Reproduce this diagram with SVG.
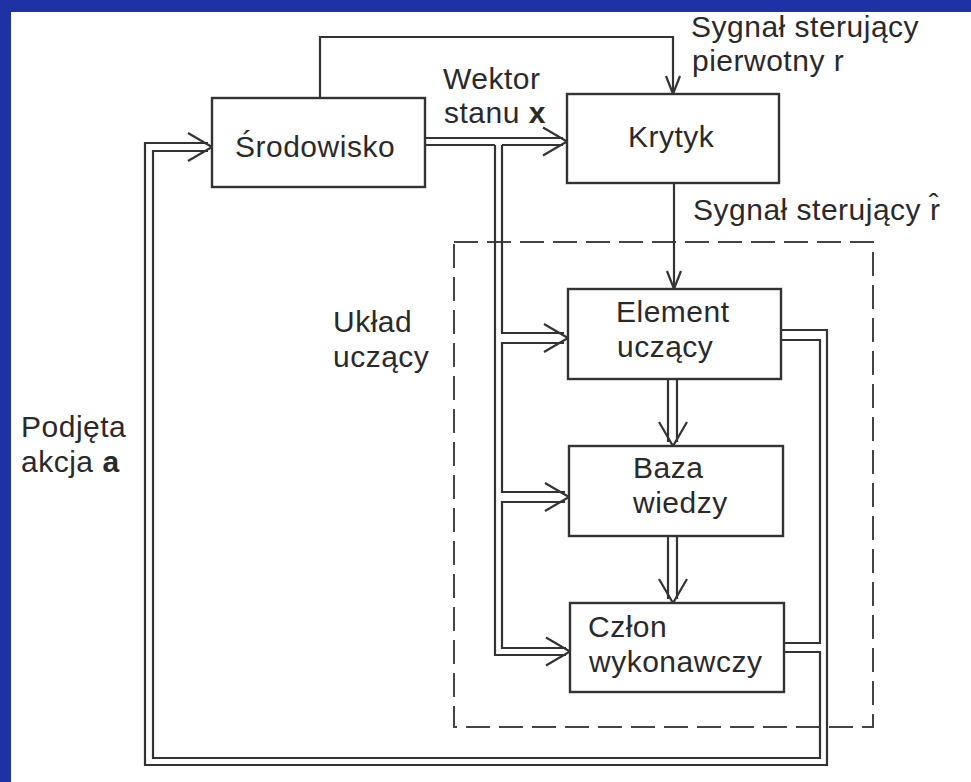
<svg xmlns="http://www.w3.org/2000/svg" xmlns:xlink="http://www.w3.org/1999/xlink" width="971" height="782" viewBox="0 0 971 782">
<style>
  .ln{fill:none;stroke:#333;stroke-width:2.2;stroke-linejoin:miter;stroke-linecap:butt}
  .box{fill:#fff;stroke:#333;stroke-width:2.4}
  .dash{fill:none;stroke:#444;stroke-width:2;stroke-dasharray:24 9}
  .t{font-family:"Liberation Sans",Arial,Helvetica,sans-serif;font-size:30px;letter-spacing:0.5px;fill:#2a2a2a}
  .b{font-weight:bold}
</style>
<defs>
  <path id="vD" class="ln" d="M-24,-14 L0,0 L-24,14"/>
  <path id="vS" class="ln" d="M-18,-7 L0,0 L-18,7"/>
</defs>
<rect x="0" y="0" width="971" height="782" fill="#fff"/>
<rect x="0" y="0" width="971" height="12" fill="#1e32a5"/>
<rect x="0" y="0" width="11" height="782" fill="#1e32a5"/>

<g id="uklad-uczacy">
  <rect class="dash" x="454" y="242" width="419" height="485"/>
  <text class="t" x="333" y="332">Układ</text>
  <text class="t" x="333" y="367">uczący</text>
</g>

<g id="connectors">
  <!-- top loop: Srodowisko -> Krytyk (sygnal pierwotny r) -->
  <path class="ln" d="M320,98 V37 H673 V92"/>
  <use xlink:href="#vS" href="#vS" transform="translate(673,94) rotate(90)"/>
  <!-- wektor stanu x -->
  <path class="ln" d="M425,138 H563"/>
  <path class="ln" d="M425,145 H495 M502,145 H563"/>
  <use xlink:href="#vD" href="#vD" transform="translate(567,141.5)"/>
  <!-- branches to learning system -->
  <path class="ln" d="M495,145 V655 H566"/>
  <path class="ln" d="M502,145 V333 H564"/>
  <path class="ln" d="M564,343 H502 V492 H565"/>
  <path class="ln" d="M565,502 H502 V648 H566"/>
  <use xlink:href="#vD" href="#vD" transform="translate(568,338)"/>
  <use xlink:href="#vD" href="#vD" transform="translate(569,497)"/>
  <use xlink:href="#vD" href="#vD" transform="translate(570,651.5)"/>
  <!-- Krytyk -> Element (r hat) -->
  <path class="ln" d="M674,183 V287"/>
  <use xlink:href="#vS" href="#vS" transform="translate(674,289) rotate(90)"/>
  <!-- Element -> Baza -->
  <path class="ln" d="M668,379 V442 M677,379 V442"/>
  <use xlink:href="#vD" href="#vD" transform="translate(673,446) rotate(90)"/>
  <!-- Baza -> Czlon -->
  <path class="ln" d="M668,536 V599 M677,536 V599"/>
  <use xlink:href="#vD" href="#vD" transform="translate(673,603) rotate(90)"/>
  <!-- right side and feedback loop (podjeta akcja a) -->
  <path class="ln" d="M781,330 H827 V765 H145 V143 H208"/>
  <path class="ln" d="M781,340 H820 V643 H784"/>
  <path class="ln" d="M784,652 H820 V758 H153 V151 H208"/>
  <use xlink:href="#vD" href="#vD" transform="translate(212,147)"/>
</g>

<g id="labels">
  <text class="t" x="443" y="89">Wektor</text>
  <text class="t" x="444" y="123">stanu <tspan class="b">x</tspan></text>
  <text class="t" x="691" y="37">Sygnał sterujący</text>
  <text class="t" x="692" y="71">pierwotny r</text>
  <text class="t" x="693" y="220">Sygnał sterujący r&#x302;</text>
  <text class="t" x="21" y="437">Podjęta</text>
  <text class="t" x="21" y="472">akcja <tspan class="b">a</tspan></text>
</g>

<g id="srodowisko">
  <rect class="box" x="212" y="98" width="213" height="89"/>
  <text class="t" x="235" y="157">Środowisko</text>
</g>
<g id="krytyk">
  <rect class="box" x="567" y="94" width="212" height="89"/>
  <text class="t" x="628" y="147">Krytyk</text>
</g>
<g id="element-uczacy">
  <rect class="box" x="568" y="289" width="213" height="90"/>
  <text class="t" x="616" y="322">Element</text>
  <text class="t" x="617" y="357">uczący</text>
</g>
<g id="baza-wiedzy">
  <rect class="box" x="569" y="446" width="214" height="90"/>
  <text class="t" x="633" y="478">Baza</text>
  <text class="t" x="633" y="513">wiedzy</text>
</g>
<g id="czlon-wykonawczy">
  <rect class="box" x="570" y="603" width="214" height="89"/>
  <text class="t" x="588" y="637">Człon</text>
  <text class="t" x="589" y="672">wykonawczy</text>
</g>
</svg>
